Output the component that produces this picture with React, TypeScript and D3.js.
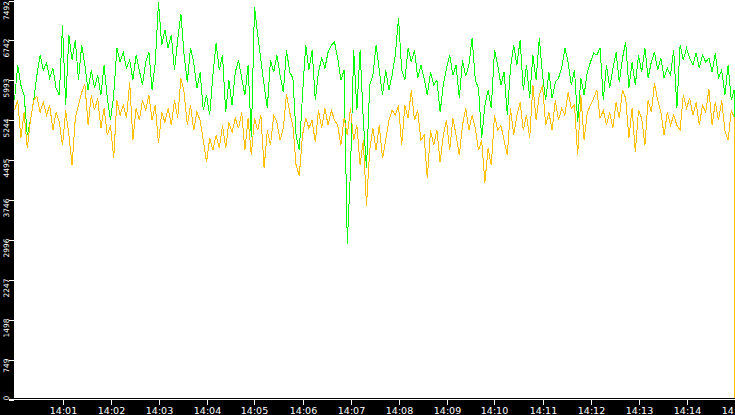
import React from 'react';
import * as d3 from 'd3';

// sampled every 4 s from 14:00:00; the last two samples close the run at 14:14:59
const greenValues = [
  5620, 6279, 5903, 5714, 4961, 5243, 5620, 6091, 6468, 6185,
  6317, 6035, 6223, 5846, 5714, 7033, 5526, 6845, 6374, 6750,
  5997, 6656, 6279, 5808, 6185, 5846, 6091, 5714, 6279, 5658,
  5243, 5714, 6600, 6336, 6524, 6223, 6374, 5997, 6468, 6185,
  5903, 6336, 6524, 5808, 6336, 7466, 6656, 6939, 6600, 6845,
  6185, 6750, 7240, 6468, 5959, 6600, 6336, 5846, 6147, 5432,
  5714, 5337, 6091, 6694, 6185, 6468, 5394, 5997, 5526, 6147,
  6374, 6035, 5714, 6279, 4923, 7372, 6845, 6374, 5903, 5469,
  6374, 6147, 6468, 6091, 5770, 6562, 6147, 6035, 4961, 4678,
  5714, 6656, 6185, 6562, 5620, 6147, 6411, 6223, 6524, 6656,
  6713, 6411, 5997, 6185, 2926, 4301, 6562, 5432, 6562, 5243,
  4339, 5903, 6091, 6656, 6185, 5714, 6185, 5808, 6091, 6468,
  7165, 6185, 5997, 6600, 6336, 6562, 6035, 6279, 6035, 5714,
  6147, 5903, 5997, 5394, 5903, 6223, 6468, 6091, 6279, 5658,
  6374, 6072, 6279, 6788, 5997, 5846, 4904, 5526, 5808, 5469,
  6562, 6279, 5903, 6147, 5337, 6223, 6656, 6279, 6750, 5808,
  6279, 5658, 6468, 5997, 6788, 6091, 5620, 6147, 5658, 5959,
  6035, 6223, 6600, 6336, 5903, 6185, 5205, 6035, 5714, 6147,
  6336, 6505, 6468, 6600, 5620, 6279, 5846, 6223, 6524, 5959,
  6411, 6713, 5846, 6336, 5903, 6468, 6147, 6600, 6035, 6336,
  6524, 6185, 6411, 6035, 6223, 6091, 6562, 5469, 6656, 6374,
  6600, 6411, 6279, 6505, 6223, 6468, 6336, 6411, 6147, 6505,
  6035, 6185, 5714, 6279, 5620, 5810, 2794,
];

const orangeValues = [
  5432, 5620, 4904, 5394, 4716, 5243, 5620, 5695, 5394, 5582,
  5337, 5526, 5055, 5394, 5205, 4772, 5432, 4961, 4395, 5281,
  5526, 5770, 5922, 5149, 5714, 5432, 5658, 5092, 5469, 4961,
  5149, 4527, 5620, 5337, 5526, 5281, 5959, 4866, 5469, 5243,
  5620, 5432, 5714, 5243, 5526, 4810, 5394, 5205, 5469, 5149,
  5620, 5281, 6035, 5770, 5149, 5526, 5055, 5394, 5243, 4866,
  4452, 4904, 4678, 4961, 4716, 5149, 4716, 5205, 5017, 5281,
  5092, 5394, 4678, 5281, 4584, 5281, 5055, 5337, 4339, 5055,
  4772, 5337, 5205, 4866, 5092, 5733, 5394, 5149, 4395, 4207,
  4961, 5281, 5092, 5243, 4829, 5432, 5092, 5469, 5149, 5432,
  5243, 5149, 4772, 5281, 4961, 5469, 4866, 5149, 4395, 4866,
  3642, 4678, 5092, 4678, 5149, 4527, 4866, 5243, 5432, 5337,
  5526, 4772, 5526, 5281, 5808, 5243, 5432, 4866, 4961, 4151,
  5055, 4772, 5055, 4452, 4961, 5243, 4678, 5281, 4961, 4584,
  5149, 5469, 5055, 5337, 5092, 4678, 4866, 4075, 4716, 4395,
  5337, 5055, 5149, 4866, 4584, 5469, 4961, 5337, 5582, 5055,
  5337, 4904, 5903, 5243, 5714, 5903, 5149, 5394, 5055, 5620,
  5243, 5469, 5337, 5770, 5469, 5526, 4584, 5714, 4866, 5394,
  5526, 5658, 5808, 5281, 5432, 5149, 5394, 5092, 5582, 5281,
  5808, 5658, 4904, 5469, 4641, 5432, 5281, 4772, 5620, 5394,
  5941, 5620, 5394, 4961, 5394, 5149, 5337, 5149, 5055, 5714,
  5469, 5658, 5337, 5582, 5149, 5526, 5394, 5827, 5149, 5582,
  5243, 5620, 5055, 4866, 5432, 5300, 0,
];

const sampleSeconds = d3.range(225).map(i => i * 4).concat([899.5, 899.5]);

const yMax = 7492;
const yTickValues = [0, 749.2, 1498.4, 2247.6, 2996.8, 3746, 4495.2, 5244.4, 5993.6, 6742.8, 7492];
const yTickLabels = ['0', '749', '1498', '2247', '2996', '3746', '4495', '5244', '5993', '6742', '7492'];

const xTickMinutes = [1, 2, 3, 4, 5, 6, 7, 8, 9, 10, 11, 12, 13, 14, 15];
const xTickLabels = ['14:01', '14:02', '14:03', '14:04', '14:05', '14:06', '14:07', '14:08',
  '14:09', '14:10', '14:11', '14:12', '14:13', '14:14', '14:15'];

const W = 735;
const H = 415;
const plotLeft = 14;
const plotBottom = 398;
const axisY = 399.5;

export default function App() {
  const x = d3.scaleLinear().domain([0, 900]).range([14.5, 734.5]);
  const y = d3.scaleLinear().domain([0, yMax]).range([axisY, 0.5]);

  const line = d3.line<number>()
    .x((d, i) => x(sampleSeconds[i]))
    .y(d => y(d));

  const font = '"DejaVu Sans", Verdana, sans-serif';

  return (
    <>
      <style>{`body{margin:0;overflow:hidden;background:#000}`}</style>
      <svg width={W} height={H} style={{ display: 'block' }}>
        <defs>
          <clipPath id="plot-clip">
            <rect x={plotLeft} y={0} width={W - plotLeft} height={plotBottom} />
          </clipPath>
        </defs>
        <rect x={0} y={0} width={W} height={H} fill="#000" />
        <rect x={plotLeft} y={0} width={W - plotLeft} height={plotBottom} fill="#fff" />

        <g clipPath="url(#plot-clip)" fill="none" strokeWidth={1} shapeRendering="crispEdges">
          <path d={line(greenValues) || ''} stroke="#00ff00" />
          <path d={line(orangeValues) || ''} stroke="#ffc000" />
        </g>

        {/* bottom axis */}
        <line x1={9} x2={W} y1={axisY} y2={axisY} stroke="#fff" shapeRendering="crispEdges" />
        {xTickMinutes.map((m, i) => (
          <g key={m} transform={`translate(${Math.round(x(m * 60)) + 0.5},0)`}>
            <line y1={axisY} y2={axisY + 5} stroke="#fff" shapeRendering="crispEdges" />
            <text y={414} textAnchor="middle" fill="#fff" fontSize={9.5} fontFamily={font}>
              {xTickLabels[i]}
            </text>
          </g>
        ))}

        {/* left axis */}
        {yTickValues.map((v, i) => {
          const ty = Math.round(y(v)) + 0.5;
          const first = i === 0;
          const ay = first ? 400.5 : Math.max(ty - 2, 1);
          return (
            <g key={v}>
              <line x1={9} x2={plotLeft} y1={ty} y2={ty} stroke="#fff" shapeRendering="crispEdges" />
              <text
                transform={`translate(8.5,${ay}) rotate(-90)`}
                textAnchor={first ? 'start' : 'end'}
                fill="#fff"
                fontSize={7.5}
                fontFamily={font}
              >
                {yTickLabels[i]}
              </text>
            </g>
          );
        })}
      </svg>
    </>
  );
}
